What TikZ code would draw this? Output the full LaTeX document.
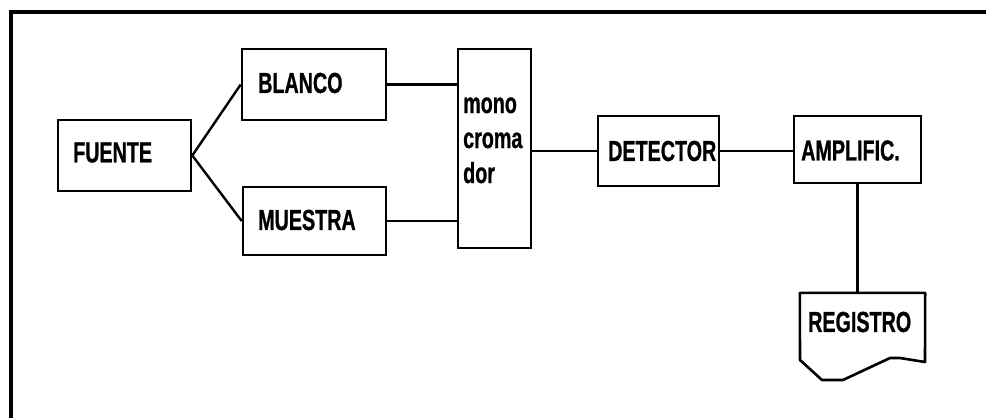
\documentclass[tikz,border=0pt]{standalone}
\usepackage{fontspec}
\setmainfont{Liberation Sans}
\newfontfamily\lblfont{Liberation Sans Bold}[FakeStretch=0.68, FakeBold=0.8]
\usetikzlibrary{calc}
\tikzset{
  box/.style={draw, line width=2.6pt, rectangle, inner sep=0pt},
  lbl/.style={font=\lblfont\fontsize{29}{35}\selectfont, inner sep=0pt},
  wire/.style={line width=2.4pt},
  frame/.style={line width=4pt}
}
\begin{document}
\begin{tikzpicture}[x=1pt,y=-1pt]
\useasboundingbox (0,0) rectangle (986,418);
% frame
\coordinate (fbl) at (11,418);
\coordinate (ftl) at (11,12);
\coordinate (ftr) at (986,12);
\draw[frame] (fbl) -- (ftl) -- (ftr);
% boxes
\node[box, minimum width=133pt, minimum height=71pt] (fuente) at (124.5,155.5) {};
\node[box, minimum width=144pt, minimum height=71pt] (blanco) at (314,84.5) {};
\node[box, minimum width=143pt, minimum height=68pt] (muestra) at (314.5,221) {};
\node[box, minimum width=73pt, minimum height=199pt] (mono) at (494.5,148.5) {};
\node[box, minimum width=121pt, minimum height=70pt] (det) at (658.5,151) {};
\node[box, minimum width=127pt, minimum height=67pt] (amp) at (857.5,149.5) {};
\node[inner sep=0pt, minimum width=125pt, minimum height=70pt] (reg) at (862.5,328) {};
\draw[line width=2.6pt, line join=round]
  (reg.north west) -- (reg.north east) -- (925,362) -- (900,358) -- (890,358)
  -- (843,380) -- (822,380) -- (800,360) -- cycle;
% texts
\node[lbl, anchor=west] (tf) at (73,152.5) {FUENTE};
\node[lbl, anchor=west] (tb) at (258,83) {BLANCO};
\node[lbl, anchor=west] (tm) at (258,220) {MUESTRA};
\node[lbl, anchor=base west, align=left] (tmono) at (463,183) {mono\\croma\\dor};
\node[lbl, anchor=west] (td) at (608,151) {DETECTOR};
\node[lbl, anchor=west] (ta) at (801,150.5) {AMPLIFIC.};
\node[lbl, anchor=west] (tr) at (808,322) {REGISTRO};
% connectors
\draw[wire] (fuente.east) -- (blanco.west);
\draw[wire] (fuente.east) -- (muestra.west);
\draw[wire] (blanco.east) -- (blanco.east -| mono.west);
\draw[wire] (muestra.east) -- (muestra.east -| mono.west);
\draw[wire] (mono.east |- det.west) -- (det.west);
\draw[wire] (det.east) -- (det.east -| amp.west);
\draw[wire] (amp.south) -- (amp.south |- reg.north);
\end{tikzpicture}
\end{document}
